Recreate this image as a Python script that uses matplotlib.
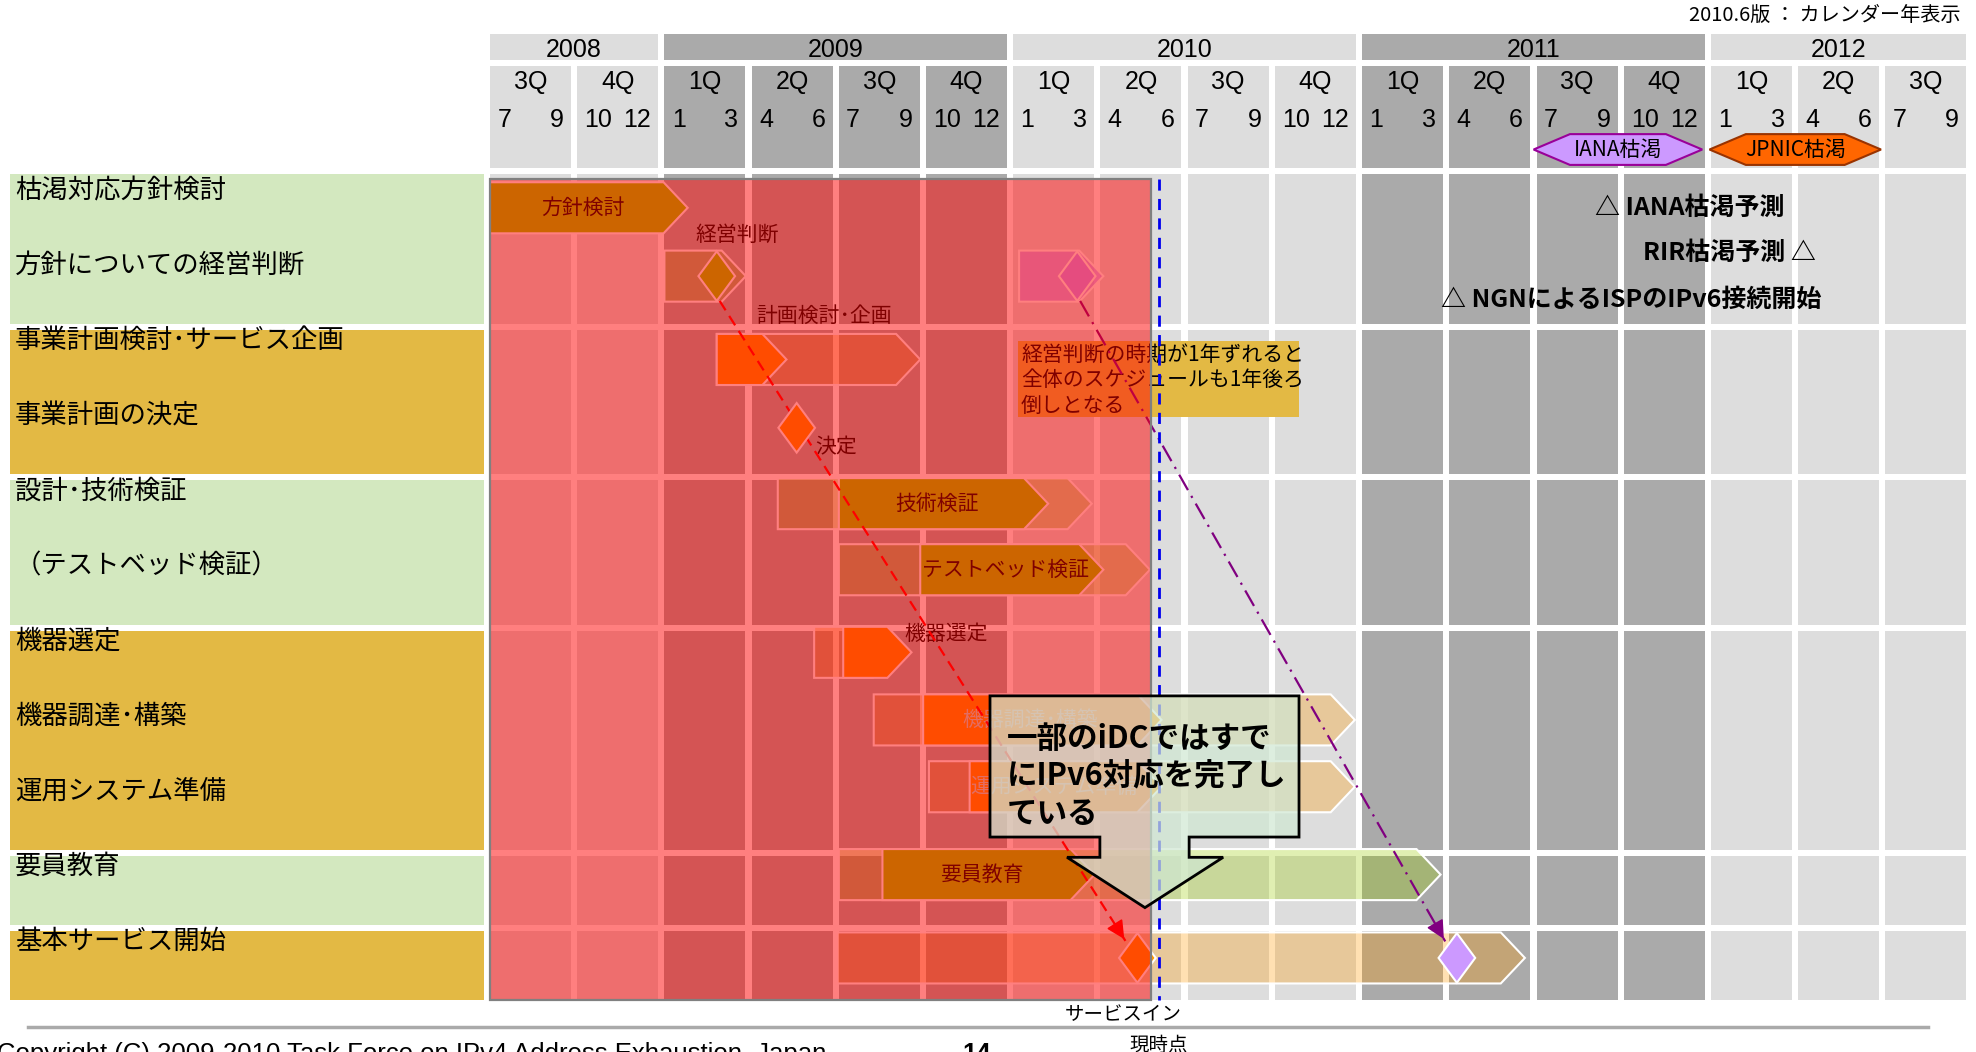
import matplotlib
matplotlib.use('Agg')
import matplotlib.pyplot as plt
from matplotlib.patches import Polygon, Rectangle

plt.rcParams['font.family'] = ['Noto Sans CJK JP', 'DejaVu Sans']

# timeline: months counted from July 2008, 17 quarters shown
first_year = 2008
first_quarter = 3
n_quarters = 17
quarter_names = ['1Q', '2Q', '3Q', '4Q']
month_ends = [('1', '3'), ('4', '6'), ('7', '9'), ('10', '12')]

task_names = ['枯渇対応方針検討', '方針についての経営判断',
              '事業計画検討･サービス企画', '事業計画の決定',
              '設計･技術検証', '（テストベッド検証）',
              '機器選定', '機器調達･構築', '運用システム準備',
              '要員教育', '基本サービス開始']
group_sizes = [2, 2, 2, 3, 1, 1]

# translucent schedule bars
plan_rows = [1, 2, 4, 5, 6, 7, 8, 9, 10, 1]
plan_start = [6.0, 7.8, 9.9, 12.0, 11.15, 13.2, 15.1, 12.0, 11.95, 18.2]
plan_end = [8.8, 14.8, 20.7, 22.7, 14.0, 29.75, 29.75, 32.7, 35.6, 21.1]
plan_kind = ['g', 'o', 'g', 'g', 'o', 'o', 'o', 'g', 'o', 'p']

# solid bars
bar_rows = [0, 2, 4, 5, 6, 7, 8, 9]
bar_start = [0.0, 7.8, 12.0, 14.8, 12.15, 14.9, 16.5, 13.5]
bar_end = [6.8, 10.2, 19.2, 21.1, 14.5, 23.1, 23.1, 20.8]
bar_kind = ['g', 'o', 'g', 'g', 'o', 'o', 'o', 'g']
bar_text = ['方針検討', '', '技術検証', 'テストベッド検証', '', '機器調達･構築',
            '運用システム準備', '要員教育']

# milestones (diamonds) and the arrows linking them
ms_rows = [1, 3, 10, 1, 10]
ms_month = [7.8, 10.55, 22.27, 20.2, 33.26]
ms_kind = ['g', 'o', 'o', 'p', 'p']
links = [(0, 2, '#ff0000', (0, (5, 3))), (3, 4, '#800080', (0, (8, 3, 1, 3)))]

side_text = ['経営判断', '計画検討･企画', '決定', '機器選定']
side_month = [8.5, 11.5, 11.9, 15.7]
side_row = [0.81, 1.89, 3.64, 6.13]

exhaust_names = ['IANA枯渇', 'JPNIC枯渇']
exhaust_start = [35.9, 41.95]
exhaust_end = [41.7, 47.85]
exhaust_fill = ['#cc99ff', '#ff6600']
exhaust_edge = ['#990099', '#993300']

forecast_text = ['△ IANA枯渇予測', 'RIR枯渇予測 △', '△ NGNによるISPのIPv6接続開始']
forecast_month = [38.0, 45.6, 32.7]
forecast_ha = ['left', 'right', 'left']
forecast_row = [0.45, 1.05, 1.68]

past_end = 22.74     # shaded "already passed" period
now_month = 23.0     # 現時点 (2010.6)

note_lines = ['経営判断の時期が1年ずれると', '全体のスケジュールも1年後ろ', '倒しとなる']
callout_lines = ['一部のiDCではすで', 'にIPv6対応を完了し', 'ている']

# ---- layout / style ----
MW, RH = 29.07, 75.09          # pixels per month / per row
CELL = 81 / MW                 # quarter cell width (months)
GAP = 6 / RH
BAR_H = 0.68
TIP = 0.83
row_mid = [0.45, 1.36, 2.47, 3.38, 4.39, 5.27, 6.37, 7.27, 8.16, 9.33, 10.44]
colors = {'g': '#99cc00', 'o': '#ff9900', 'p': '#cc99ff'}
plan_alpha = {'g': 0.3, 'o': 0.3, 'p': 0.7}
LIGHT, DARK = '#dddddd', '#aaaaaa'
box_colors = ['#d3e8bf', '#e3b944']
hdr_font = 'Liberation Sans'

fig = plt.figure(figsize=(19.76, 10.52), dpi=100)
ax = fig.add_axes([0, 0, 1, 1])
ax.set_xlim(-490 / MW, (1976 - 490) / MW)
ax.set_ylim((1052 - 174) / RH, -174 / RH)
ax.axis('off')


def chevron(x0, x1, yc, h=BAR_H, tip=TIP):
    return [(x0, yc - h / 2), (x1 - tip, yc - h / 2), (x1, yc),
            (x1 - tip, yc + h / 2), (x0, yc + h / 2)]


def hexagon(x0, x1, yc, h, tip):
    return [(x0, yc), (x0 + tip, yc - h / 2), (x1 - tip, yc - h / 2), (x1, yc),
            (x1 - tip, yc + h / 2), (x0 + tip, yc + h / 2)]


def diamond(xc, yc, w=0.63, h=0.33):
    return [(xc - w, yc), (xc, yc - h), (xc + w, yc), (xc, yc + h)]


# group boundaries in rows
group_top = [sum(group_sizes[:i]) for i in range(len(group_sizes))]
group_bot = [t + s for t, s in zip(group_top, group_sizes)]

# header and grid columns
year_span = {}
for q in range(n_quarters):
    idx = first_quarter - 1 + q
    year = first_year + idx // 4
    qn = idx % 4
    shade = LIGHT if (year - first_year) % 2 == 0 else DARK
    x0 = 3 * q
    year_span.setdefault(year, [x0, x0 + CELL, shade])[1] = x0 + CELL
    ax.add_patch(Rectangle((x0, -1.438), CELL, 1.358, color=shade, lw=0, zorder=1))
    ax.text(x0 + CELL / 2, -1.22, quarter_names[qn], ha='center', va='center',
            fontsize=18, family=hdr_font, zorder=2)
    ax.text(x0 + 0.25, -0.72, month_ends[qn][0], ha='left', va='center',
            fontsize=18, family=hdr_font, zorder=2)
    ax.text(x0 + CELL - 0.25, -0.72, month_ends[qn][1], ha='right', va='center',
            fontsize=18, family=hdr_font, zorder=2)
    for g, (t, b) in enumerate(zip(group_top, group_bot)):
        top = t + (GAP if g else 0)
        ax.add_patch(Rectangle((x0, top), CELL, b - top, color=shade, lw=0, zorder=1))

for year, (x0, x1, shade) in year_span.items():
    ax.add_patch(Rectangle((x0, -1.864), x1 - x0, 0.346, color=shade, lw=0, zorder=1))
    ax.text((x0 + x1) / 2, -1.65, str(year), ha='center', va='center',
            fontsize=18, family=hdr_font, zorder=2)

ax.text(50.6, -2.11, '2010.6版 ： カレンダー年表示', ha='right', va='center',
        fontsize=14.5, zorder=2)

# task label boxes on the left
for g, (t, b) in enumerate(zip(group_top, group_bot)):
    top = t + (GAP if g else 0)
    ax.add_patch(Rectangle((-16.51, top), 16.3, b - top, color=box_colors[g % 2],
                           lw=0, zorder=1))
for i, name in enumerate(task_names):
    ax.text(-16.34, i + 0.22, name, ha='left', va='center', fontsize=19, zorder=2)

# translucent bars
for r, s, e, k in zip(plan_rows, plan_start, plan_end, plan_kind):
    ax.add_patch(Polygon(chevron(s, e, row_mid[r]), closed=True,
                         facecolor=colors[k], alpha=plan_alpha[k], lw=0, zorder=2))
    ax.add_patch(Polygon(chevron(s, e, row_mid[r]), closed=True, fill=False,
                         edgecolor='white', lw=1.5, zorder=2.1))

# note box (lies under the shaded period)
ax.add_patch(Rectangle((18.16, 2.22), 9.67, 1.01, color='#e3b944', lw=0, zorder=2.5))
for j, line in enumerate(note_lines):
    ax.text(18.27, 2.41 + 0.34 * j, line, ha='left', va='center', fontsize=15,
            zorder=2.6)

# solid bars
for r, s, e, k, t in zip(bar_rows, bar_start, bar_end, bar_kind, bar_text):
    ax.add_patch(Polygon(chevron(s, e, row_mid[r]), closed=True,
                         facecolor=colors[k], edgecolor='white', lw=1.5, zorder=3))
    if t:
        faded = r in (7, 8)
        ax.text((s + e - TIP) / 2 + (0 if faded else 0.2), row_mid[r], t,
                ha='center', va='center', fontsize=15,
                color='#c8dcc8' if faded else 'black', zorder=3.5)

for t, m, y in zip(side_text, side_month, side_row):
    ax.text(m, y, t, ha='center', va='center', fontsize=15, zorder=3.5)

# milestone links
for a, b, c, ls in links:
    x0, y0 = ms_month[a] + 0.1, row_mid[ms_rows[a]] + 0.33
    x1, y1 = ms_month[b] - 0.4, row_mid[ms_rows[b]] - 0.22
    ax.plot([x0, x1], [y0, y1], color=c, lw=1.6, linestyle=ls, zorder=3.6)
    ax.annotate('', xy=(x1, y1), xytext=(x1 - (x1 - x0) * 0.03, y1 - (y1 - y0) * 0.03),
                arrowprops=dict(arrowstyle='-|>', color=c, lw=1.2, mutation_scale=28),
                zorder=3.7)

for r, m, k in zip(ms_rows, ms_month, ms_kind):
    ax.add_patch(Polygon(diamond(m, row_mid[r]), closed=True, facecolor=colors[k],
                         edgecolor='white', lw=1.5, zorder=3.8))

# shaded past period
ax.add_patch(Rectangle((0, 0.067), past_end, 11 - 0.067, facecolor='red', alpha=0.5,
                       lw=0, zorder=5))
ax.add_patch(Rectangle((0, 0.067), past_end, 11 - 0.067, fill=False,
                       edgecolor='#808080', lw=1.6, zorder=5.1))
ax.plot([now_month, now_month], [0.067, 11.0], color='#0000ee', lw=2,
        linestyle=(0, (4, 3)), zorder=5.2)

# exhaustion periods in header
for n, s, e, fc, ec in zip(exhaust_names, exhaust_start, exhaust_end,
                           exhaust_fill, exhaust_edge):
    ax.add_patch(Polygon(hexagon(s, e, -0.326, 0.41, 1.25), closed=True,
                         facecolor=fc, edgecolor=ec, lw=1.5, zorder=3))
    ax.text((s + e) / 2, -0.32, n, ha='center', va='center', fontsize=15, zorder=3.5)

for t, m, ha, y in zip(forecast_text, forecast_month, forecast_ha, forecast_row):
    ax.text(m, y, t, ha=ha, va='center', fontsize=18, fontweight='bold', zorder=4)

# callout
callout = [(17.2, 6.95), (27.83, 6.95), (27.83, 8.83), (24.05, 8.83), (24.05, 9.10),
           (25.22, 9.10), (22.53, 9.77), (19.85, 9.10), (20.98, 9.10), (20.98, 8.83),
           (17.2, 8.83)]
ax.add_patch(Polygon(callout, closed=True, facecolor='#d0e7d3', alpha=0.71, lw=0,
                     zorder=7))
ax.add_patch(Polygon(callout, closed=True, fill=False, edgecolor='black', lw=2,
                     zorder=7.1))
for j, line in enumerate(callout_lines):
    ax.text(17.79, 7.52 + 0.5 * j, line, ha='left', va='center', fontsize=22,
            fontweight='bold', zorder=8)

# footer
ax.text(ms_month[2] - 0.5, 11.2, 'サービスイン', ha='center', va='center', fontsize=14)
ax.text(now_month, 11.6, '現時点', ha='center', va='center', fontsize=14)
ax.plot([-15.9, 49.47], [11.36, 11.36], color='#aaaaaa', lw=2.5)
ax.text(-16.95, 11.56, 'Copyright (C) 2009-2010 Task Force on IPv4 Address Exhaustion, Japan',
        ha='left', va='top', fontsize=18.5, family=hdr_font)
ax.text(16.24, 11.56, '14', ha='left', va='top', fontsize=18.5, fontweight='bold',
        family=hdr_font)

fig.savefig('out.png', dpi=100)
